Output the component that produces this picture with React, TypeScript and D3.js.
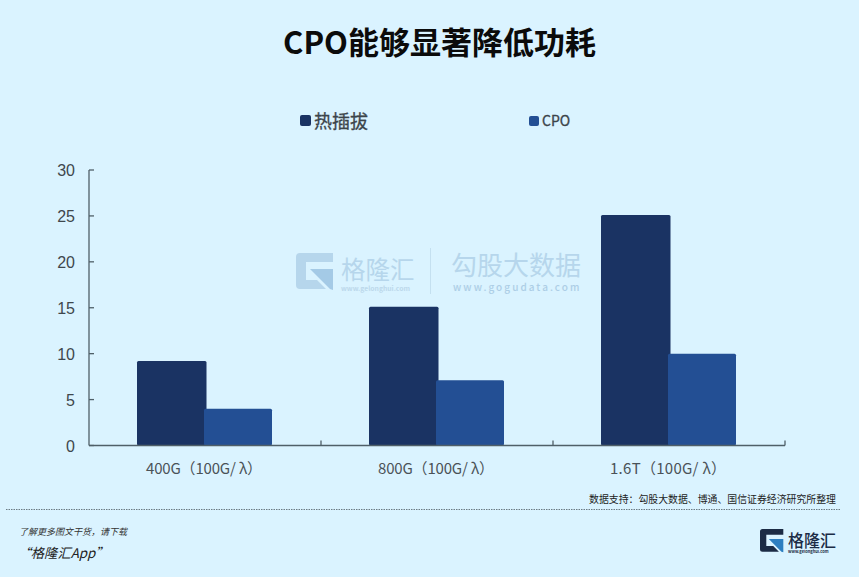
import React from 'react';
import * as d3 from 'd3';

const categories = ['400G（100G/ λ）', '800G（100G/ λ）', '1.6T（100G/ λ）'];
const seriesNames = ['热插拔', 'CPO'];
const hotPlug = [9.2, 15.1, 25.1];
const cpo = [4, 7.1, 10];
const yTicks = [0, 5, 10, 15, 20, 25, 30];

const COLORS = ['#1a3363', '#234f94'];
const BG = '#daf3ff';
const AXIS = '#4f5f68';
const SANS = '"Noto Sans CJK SC", "Noto Sans", sans-serif';

const x0 = d3.scaleBand<string>().domain(categories).range([88.5, 784.5]);
const x1 = d3.scaleBand<string>().domain(seriesNames).range([-67, 67]);
const y = d3.scaleLinear().domain([0, 30]).range([445.5, 170]);

// G mark shared by the watermark and the footer logo
const GMark: React.FC<{ x: number; y: number; s: number; fill: string; accent: string }> = ({ x, y: top, s, fill, accent }) => (
  <g transform={`translate(${x},${top}) scale(${s})`}>
    <path d="M4 0H37V9H10V27H21L30 36H4Q0 36 0 32V4Q0 0 4 0Z" fill={fill} />
    <path d="M14 16H37V37L34 36L23 25L14 16Z" fill={accent} />
  </g>
);

export default function App() {
  return (
    <svg
      width={859}
      height={577}
      style={{ position: 'absolute', left: 0, top: 0, background: BG, fontFamily: SANS }}
    >
      <rect width={859} height={577} fill={BG} />

      {/* title */}
      <text x={439.5} y={54} textAnchor="middle" fontSize={31} fontWeight={700} fill="#0b0b0b">
        CPO能够显著降低功耗
      </text>

      {/* legend */}
      <rect x={300} y={115} width={11} height={11} rx={2} fill={COLORS[0]} />
      <text x={314} y={127.5} fontSize={18} fill="#3c444a" stroke="#3c444a" strokeWidth={0.3}>{seriesNames[0]}</text>
      <rect x={529} y={116} width={10} height={10} rx={2} fill={COLORS[1]} />
      <text x={542} y={126} fontSize={14} fill="#3c444a" stroke="#3c444a" strokeWidth={0.3}>{seriesNames[1]}</text>

      {/* watermark */}
      <g opacity={0.9}>
        <GMark x={296} y={253} s={1} fill="#b3d3ea" accent="#9fc6e4" />
        <text x={341} y={279} fontSize={24.5} fill="#b3d3ea">格隆汇</text>
        <text x={341} y={291} fontSize={6.8} fill="#b9d6ea" fontWeight={700}>www.gelonghui.com</text>
        <line x1={430.5} x2={430.5} y1={248} y2={294} stroke="#c2deef" />
        <text x={451} y={275} fontSize={26} fill="#b3d3ea">勾股大数据</text>
        <text x={453} y={291} fontSize={10} fill="#a9cbe4" letterSpacing={2.05} fontWeight={500}>www.gogudata.com</text>
      </g>

      {/* bars */}
      {categories.map((c, i) => {
        const cx = (x0(c) as number) + x0.bandwidth() / 2;
        return (
          <g key={c}>
            {[hotPlug[i], cpo[i]].map((v, j) => (
              <rect
                key={seriesNames[j]}
                x={cx + (x1(seriesNames[j]) as number) + (j === 0 ? -0.5 : -0.5)}
                y={y(v)}
                width={x1.bandwidth() + (j === 0 ? 2.5 : 1)}
                height={y(0) - y(v)}
                rx={1.5}
                fill={COLORS[j]}
              />
            ))}
          </g>
        );
      })}

      {/* axes */}
      <g stroke={AXIS} strokeWidth={1.3} fill="none">
        <line x1={89} x2={89} y1={y(30)} y2={y(0)} />
        <line x1={89} x2={785} y1={y(0)} y2={y(0)} />
        {yTicks.map(t => (
          <line key={t} x1={89} x2={94} y1={y(t)} y2={y(t)} />
        ))}
        {categories.map(c => {
          const tx = (x0(c) as number) + x0.bandwidth() + 0.5;
          return <line key={c} x1={tx} x2={tx} y1={y(0)} y2={y(0) - 5} />;
        })}
      </g>
      {yTicks.map(t => (
        <text key={t} x={75} y={y(t) + 6} textAnchor="end" fontSize={16} fill="#3f474d"
          fontFamily='"Liberation Sans", sans-serif'>
          {t}
        </text>
      ))}
      {categories.map(c => (
        <text key={c} x={(x0(c) as number) + x0.bandwidth() / 2 - 0.5} y={474} textAnchor="middle" fontSize={15}
          fill="#4a5257" textLength={116} lengthAdjust="spacing">
          {c}
        </text>
      ))}

      {/* source + footer */}
      <text x={836} y={503} textAnchor="end" fontSize={9.9} fill="#1c1c1c">
        数据支持：勾股大数据、博通、国信证券经济研究所整理
      </text>
      <line x1={6} x2={840} y1={509.5} y2={509.5} stroke="#6b7b84" strokeDasharray="1.5 1" />
      <text x={19} y={535} fontSize={9} fontStyle="italic" fill="#333">了解更多图文干货，请下载</text>
      <text x={17.5} y={558} fontSize={13.3} fontStyle="italic" fill="#222">“格隆汇App”</text>
      <GMark x={760} y={529} s={0.63} fill="#1b2b45" accent="#2d7fc1" />
      <text x={788} y={547} fontSize={17} fontWeight={500} fill="#1b2b45" textLength={48} lengthAdjust="spacingAndGlyphs">格隆汇</text>
      <text x={788} y={552.5} fontSize={4} fontWeight={700} fill="#1b2b45">www.gelonghui.com</text>
    </svg>
  );
}
